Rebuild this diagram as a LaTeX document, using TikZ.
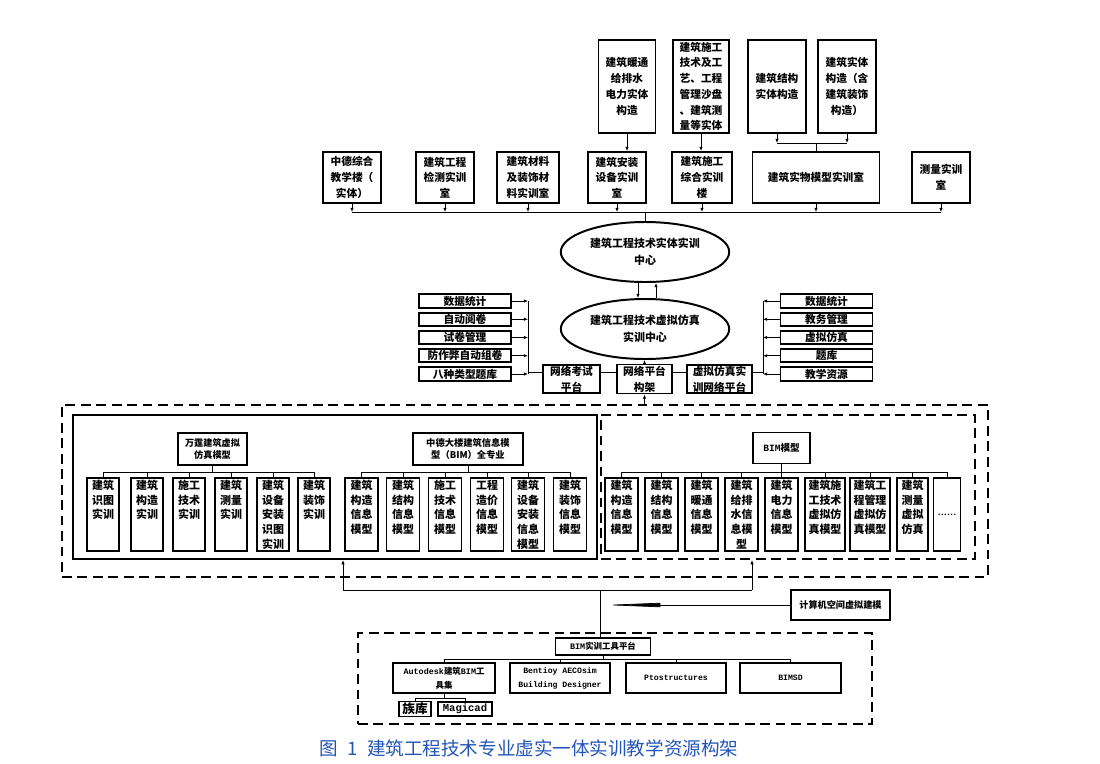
\documentclass[tikz,border=0pt]{standalone}
\usepackage{fontspec}
\setmainfont{Noto Sans CJK SC}
\newfontfamily\mono{Liberation Mono}
\usetikzlibrary{shapes.geometric, arrows.meta, positioning}
\newlength\pu
\setlength\pu{0.025cm}
\definecolor{capblue}{RGB}{35,85,185}

\tikzset{
  box/.style={draw, line width=1.4pt, align=center, inner sep=1pt, font=\fontsize{7.6}{11.2}\selectfont\bfseries},
  sz/.style 2 args={minimum width=#1\pu, minimum height=#2\pu},
  centre/.style={draw, ellipse, line width=1.4pt, align=center, minimum width=152\pu, minimum height=60\pu, font=\fontsize{7.8}{12}\selectfont\bfseries},
  item/.style={box, sz={92}{13}, font=\fontsize{7.6}{9}\selectfont\bfseries},
  child/.style={draw, line width=1.4pt, minimum height=73\pu, inner sep=0pt},
  tag/.style={anchor=north, align=center, inner sep=2pt, font=\fontsize{7.8}{10.4}\selectfont\bfseries},
  dashbox/.style={draw, line width=1.5pt, dash pattern=on 7pt off 4pt},
  link/.style={line width=0.5pt},
  arr/.style={line width=0.5pt, -{Latex[length=3pt,width=2.4pt]}},
}

\begin{document}
\begin{tikzpicture}[x=0.025cm, y=-0.025cm]
\useasboundingbox (0,0) rectangle (1100,764);

% Physical models
\node[box, sz={57}{93}] (A1) at (627,86.5) {建筑暖通\\给排水\\电力实体\\构造};
\node[box, sz={56}{93}] (A2) at (701,86.5) {建筑施工\\技术及工\\艺、工程\\管理沙盘\\、建筑测\\量等实体};
\node[box, sz={58}{93}] (A3) at (777,86.5) {建筑结构\\实体构造};
\node[box, sz={58}{93}] (A4) at (847,86.5) {建筑实体\\构造（含\\建筑装饰\\构造）};

% Training rooms
\node[box, sz={58}{51}] (B1) at (352,177.5) {中德综合\\教学楼（\\实体）};
\node[box, sz={58}{51}] (B2) at (445,177.5) {建筑工程\\检测实训\\室};
\node[box, sz={62}{51}] (B3) at (528,177.5) {建筑材料\\及装饰材\\料实训室};
\node[box, sz={58}{51}] (B4) at (617,177.5) {建筑安装\\设备实训\\室};
\node[box, sz={60}{51}] (B5) at (702,177.5) {建筑施工\\综合实训\\楼};
\node[box, sz={127}{51}] (B6) at (816,177.5) {建筑实物模型实训室};
\node[box, sz={58}{51}] (B7) at (941,177.5) {测量实训\\室};

% Centres
\node[centre] (E1) at (645,252) {建筑工程技术实体实训\\中心};
\node[centre] (E2) at (645,329) {建筑工程技术虚拟仿真\\实训中心};

% Network platforms
\node[box, sz={57}{28}] (M1) at (571.5,379) {网络考试\\平台};
\node[box, sz={55}{28}] (M2) at (644.5,379) {网络平台\\构架};
\node[box, sz={65}{28}] (M3) at (719.5,379) {虚拟仿真实\\训网络平台};
\foreach \txt [count=\i] in {数据统计,自动阅卷,试卷管理,防作弊自动组卷,八种类型题库}
  \node[item] (L\i) at (465,{301+18.25*(\i-1)}) {\txt};
\foreach \txt [count=\i] in {数据统计,教务管理,虚拟仿真,题库,教学资源}
  \node[item] (R\i) at (826.5,{301+18.25*(\i-1)}) {\txt};

% Arrows (top)
\coordinate (abus) at (0,143);
\coordinate (bbus) at (0,212);
\draw[arr] (A1) -- (A1 |- B4.north);
\draw[arr] (A2) -- (A2 |- B5.north);
\draw[arr] (A3) -- (A3 |- abus);
\draw[arr] (A4) -- (A4 |- abus);
\draw[link] (A3 |- abus) -- (A4 |- abus);
\draw[link] (B6 |- abus) -- (B6.north);
\foreach \n in {B1,B2,B3,B4,B5,B6,B7}
  \draw[arr] (\n) -- (\n |- bbus);
\draw[link] (B1 |- bbus) -- (B7 |- bbus);
\draw[link] (E1 |- bbus) -- (E1.north);
\draw[arr] ([xshift=-7\pu]E1.south) -- ([xshift=-7\pu]E2.north);
\draw[arr] ([xshift=11\pu]E2.north) -- ([xshift=11\pu]E1.south);

% Arrows (platforms)
\coordinate (lbus) at (528,0);
\coordinate (rbus) at (763,0);
\coordinate (mline) at (0,372);
\foreach \i in {1,...,5} {
  \draw[arr] (L\i) -- (L\i -| lbus);
  \draw[arr] (R\i) -- (R\i -| rbus);
}
\draw[link] (lbus |- L1) -- (lbus |- L5);
\draw[link] (rbus |- R1) -- (rbus |- R5);
\draw[link] (lbus |- mline) -- (M1.west |- mline);
\draw[link] (M1.east |- mline) -- (M2.west |- mline);
\draw[link] (M2.east |- mline) -- (M3.west |- mline);
\draw[link] (M3.east |- mline) -- (rbus |- mline);
\draw[arr] (M2) -- (M2 |- E2.south);

% Virtual simulation models
\node[dashbox, sz={926}{172}] (outer) at (525,491) {};
\node[draw, line width=1.5pt, sz={524}{144}] (solid) at (335,487) {};
\node[dashbox, sz={374}{144}] (dashed) at (788,487) {};
\draw[arr] (M2 |- outer.north) -- (M2);

\coordinate (cbus) at (0,472);
\node[box, sz={69}{32}, font=\fontsize{6.5}{8.8}\selectfont\bfseries] (W) at (212.5,449) {万霆建筑虚拟\\仿真模型};
\node[box, sz={110}{32}, font=\fontsize{6.6}{8.8}\selectfont\bfseries] (Z) at (468,449) {中德大楼建筑信息模\\型（BIM）全专业};
\node[box, sz={57}{31}, font=\fontsize{6.8}{8.8}\selectfont\bfseries] (BIM) at (781.5,448) {{\mono BIM}模型};

\foreach \x/\txt [count=\i] in {103/建筑\\识图\\实训, 147/建筑\\构造\\实训, 189/施工\\技术\\实训,
    231/建筑\\测量\\实训, 273/建筑\\设备\\安装\\识图\\实训, 314/建筑\\装饰\\实训}
  \node[child, minimum width=32\pu, label={[tag]north:\txt}] (a\i) at (\x,514.5) {};
\foreach \x/\txt [count=\i] in {361.5/建筑\\构造\\信息\\模型, 403/建筑\\结构\\信息\\模型, 445/施工\\技术\\信息\\模型,
    487/工程\\造价\\信息\\模型, 528/建筑\\设备\\安装\\信息\\模型, 570/建筑\\装饰\\信息\\模型}
  \node[child, minimum width=33\pu, label={[tag]north:\txt}] (z\i) at (\x,514.5) {};
\foreach \x/\w/\txt [count=\i] in {621.5/33/建筑\\构造\\信息\\模型, 661.5/33/建筑\\结构\\信息\\模型,
    701.5/33/建筑\\暖通\\信息\\模型, 741.5/33/建筑\\给排\\水信\\息模\\型, 781.5/33/建筑\\电力\\信息\\模型,
    825/40/建筑施\\工技术\\虚拟仿\\真模型, 870/40/建筑工\\程管理\\虚拟仿\\真模型, 912.5/31/建筑\\测量\\虚拟\\仿真}
  \node[child, minimum width=\w\pu, label={[tag]north:\txt}] (m\i) at (\x,514.5) {};
\node[child, minimum width=27\pu, font=\fontsize{8}{8}\selectfont] (m9) at (947,514.5) {......};

\draw[link] (W) -- (W |- cbus);
\draw[link] (Z) -- (Z |- cbus);
\draw[link] (BIM) -- (BIM |- cbus);
\draw[link] (a1 |- cbus) -- (a6 |- cbus);
\draw[link] (z1 |- cbus) -- (z6 |- cbus);
\draw[link] (m1 |- cbus) -- (m9 |- cbus);
\foreach \i in {1,...,6} {
  \draw[link] (a\i |- cbus) -- (a\i.north);
  \draw[link] (z\i |- cbus) -- (z\i.north);
}
\foreach \i in {1,...,9}
  \draw[link] (m\i |- cbus) -- (m\i.north);

% Modelling tools
\node[box, sz={99}{30}, font=\fontsize{6.5}{8}\selectfont\bfseries] (K) at (840.5,605) {计算机空间虚拟建模};
\node[dashbox, sz={514}{91}] (tools) at (615,678.5) {};
\node[box, sz={95}{17}, font=\fontsize{6}{8}\selectfont\bfseries] (T) at (603,646.5) {{\mono BIM}实训工具平台};
\node[box, sz={102}{30}, font=\fontsize{6}{10}\selectfont\bfseries] (P1) at (444,678) {{\mono Autodesk}建筑{\mono BIM}工\\具集};
\node[box, sz={100}{30}, font=\fontsize{5.8}{10}\selectfont\bfseries] (P2) at (560,678) {{\mono Bentioy AECOsim}\\{\mono Building Designer}};
\node[box, sz={100}{30}, font=\fontsize{5.8}{10}\selectfont\bfseries] (P3) at (676,678) {{\mono Ptostructures}};
\node[box, sz={101}{30}, font=\fontsize{5.8}{10}\selectfont\bfseries] (P4) at (790.5,678) {{\mono BIMSD}};
\node[box, sz={32}{14}, font=\fontsize{9}{10}\selectfont\bfseries] (Q1) at (415,709) {族库};
\node[box, sz={54}{14}, font=\fontsize{7.5}{9}\selectfont\bfseries] (Q2) at (465,709) {{\mono Magicad}};

\coordinate (jl) at (343,590);
\coordinate (jr) at (752,590);
\coordinate (jm) at (600,590);
\coordinate (ktip) at (604,605);
\coordinate (tbus) at (0,659);
\coordinate (qbus) at (0,698);
\draw[link] (jl) -- (jr);
\draw[arr] (jl) -- (jl |- solid.south);
\draw[arr] (jr) -- (jr |- dashed.south);
\draw[link] (jm) -- (jm |- T.north);
\draw[line width=0.5pt, -{Triangle[length=40pt,width=3pt]}] (K) -- (ktip);
\draw[link] (T) -- (T |- tbus);
\draw[link] (P1 |- tbus) -- (P4 |- tbus);
\foreach \n in {P1,P2,P3,P4}
  \draw[link] (\n |- tbus) -- (\n.north);
\draw[link] (P1) -- (P1 |- qbus);
\draw[link] (Q1 |- qbus) -- (Q2 |- qbus);
\draw[link] (Q1 |- qbus) -- (Q1.north);
\draw[link] (Q2 |- qbus) -- (Q2.north);

% Caption
\node[font=\fontsize{13.2}{15}\selectfont, text=capblue] (cap) at (529,748) {图\enspace 1\enspace 建筑工程技术专业虚实一体实训教学资源构架};
\end{tikzpicture}
\end{document}
